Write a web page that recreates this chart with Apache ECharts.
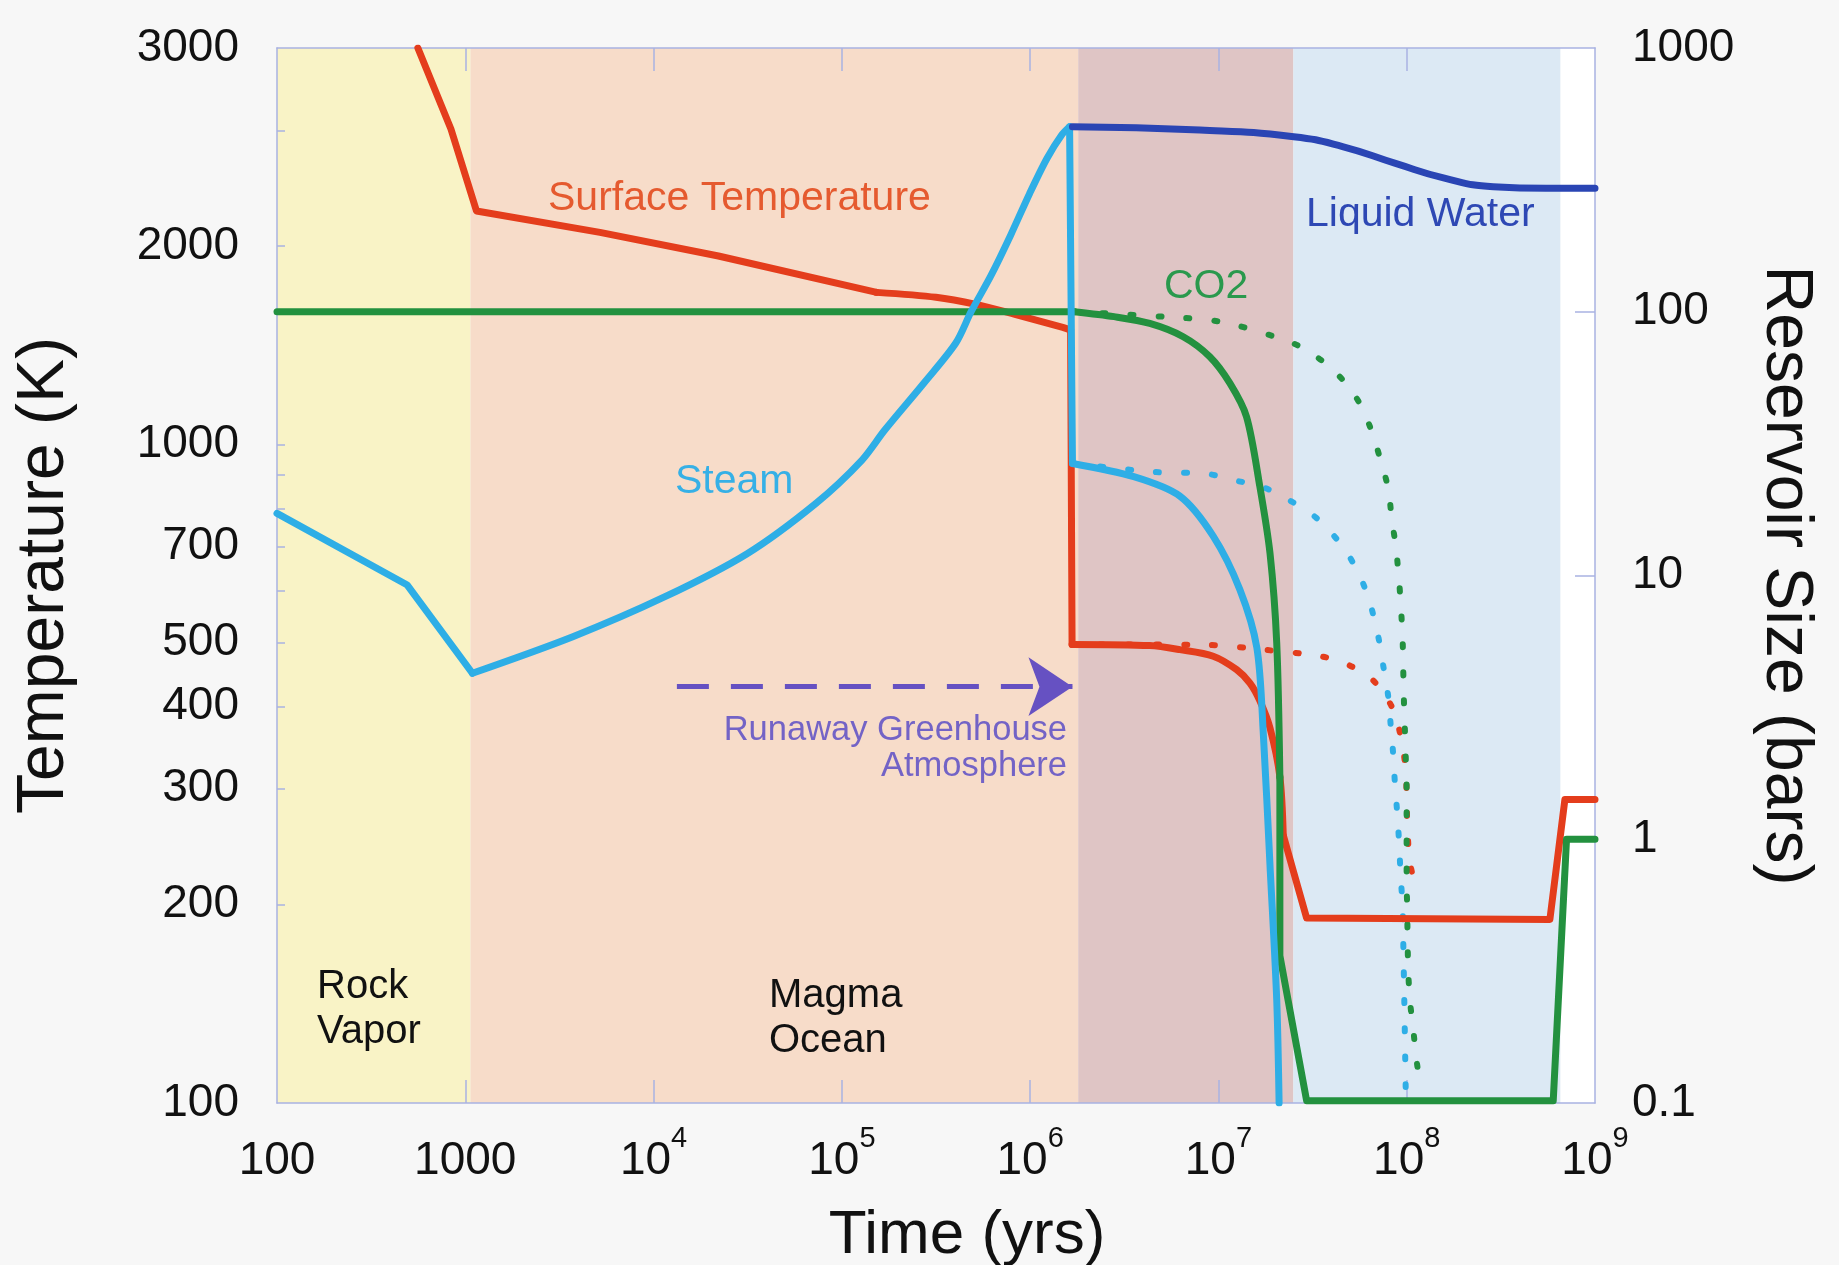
<!DOCTYPE html>
<html>
<head>
<meta charset="utf-8">
<script src="https://cdn.jsdelivr.net/npm/echarts@6/dist/echarts.min.js"></script>
<style>
html,body{margin:0;padding:0;background:#f7f7f7;}
#chart{width:1839px;height:1265px;}
</style>
</head>
<body>
<div id="chart"></div>
<script>
// ---------------- DATA (time in years; temperature in K; reservoir size in bars) ----------------
const surfaceTemperature = [
  [560, 4000], [839, 3013], [1147, 2262], [5190, 2099], [22100, 1933], [153000, 1702],
  [316000, 1673], [515000, 1632], [830000, 1576], [1490000, 1506], [1640000, 1492],
  [1670000, 497], [4320000, 495], [6240000, 488], [9380000, 477], [12500000, 455],
  [14700000, 434], [16600000, 408], [18800000, 371], [21200000, 313], [22100000, 255],
  [25000000, 225], [29400000, 191], [576000000, 190], [692000000, 289], [1000000000, 289]
];
const surfaceTemperatureAlt = [
  [1670000, 497], [8830000, 496], [17300000, 488], [34600000, 477], [48000000, 464],
  [66400000, 438], [84700000, 396], [94000000, 354], [99000000, 318], [99900000, 287],
  [101100000, 259], [104000000, 232], [113000000, 210]
];
const steam = [
  [100, 17.2], [492, 9.2], [1091, 4.26], [3724, 5.86], [11500, 8.31], [31400, 12.1],
  [73000, 18.8], [128000, 27.4], [169000, 35.6], [273000, 53.7], [403000, 76.1],
  [485000, 99.8], [619000, 137], [790000, 196], [994000, 281], [1230000, 382],
  [1470000, 468], [1620000, 503],
  [1678000, 26.6], [3550000, 23.7], [6240000, 20.0], [9380000, 14.1], [13000000, 8.84],
  [16000000, 5.32], [17300000, 2.54], [18800000, 0.789], [20400000, 0.246], [21000000, 0.1]
];
const steamAlt = [
  [1678000, 26.6], [4520000, 24.7], [8650000, 24.3], [12000000, 23.0], [17000000, 21.7],
  [23500000, 19.4], [33200000, 16.5], [46000000, 12.8], [56400000, 9.95], [63800000, 7.87],
  [70600000, 5.87], [75000000, 4.56], [79800000, 3.47], [82100000, 2.74], [84800000, 2.09],
  [86600000, 1.62], [89000000, 1.26], [91200000, 0.959], [92800000, 0.73], [95100000, 0.556],
  [95800000, 0.423], [97000000, 0.255], [98200000, 0.148], [98700000, 0.117], [99000000, 0.1]
];
const liquidWater = [
  [1678000, 503], [7980000, 489], [25100000, 461], [45600000, 423], [87200000, 365],
  [158600000, 321], [288400000, 298], [551000000, 294], [1000000000, 294]
];
const co2 = [
  [100, 100], [1720000, 100], [2790000, 95.8], [4320000, 90.3], [6500000, 80.4],
  [9000000, 67.5], [11500000, 53.6], [14100000, 40.0], [16600000, 21.7],
  [18800000, 12.1], [20400000, 5.55], [21200000, 1.72], [21200000, 0.362], [29400000, 0.102],
  [600000000, 0.102], [706000000, 1.0], [1000000000, 1.0]
];
const co2Alt = [
  [1720000, 100], [5070000, 95.8], [10200000, 91.7], [20400000, 80.0], [28200000, 72.7],
  [40700000, 60.2], [54200000, 47.0], [63800000, 36.7], [72100000, 27.9], [79800000, 21.3],
  [83200000, 16.5], [87600000, 12.8], [90900000, 9.74], [93200000, 7.56], [95100000, 5.75],
  [95800000, 4.47], [96600000, 3.40], [97800000, 2.60], [99000000, 1.97], [99900000, 1.56],
  [99900000, 0.921], [99900000, 0.702], [100600000, 0.545], [101100000, 0.415],
  [101900000, 0.316], [104000000, 0.245], [108300000, 0.190], [112900000, 0.1448], [118600000, 0.1124]
];
const runawayArrow = [[13300, 3.79], [1678000, 3.79]];

const phaseNames = ['Rock Vapor', 'Magma Ocean', 'Runaway Greenhouse', 'Liquid Water', 'Present'];
const phaseStart = [100, 1066, 1800000, 25000000, 656000000];
const phaseEnd   = [1066, 1800000, 25000000, 656000000, 1000000000];

const timeLabelValues = [100, 1000, 1e4, 1e5, 1e6, 1e7, 1e8, 1e9];
const timeTickValues = [1000, 1e4, 1e5, 1e6, 1e7, 1e8];
const tempLabelValues = [100, 200, 300, 400, 500, 700, 1000, 2000, 4000];
const tempLabelText   = ['100', '200', '300', '400', '500', '700', '1000', '2000', '3000'];
const tempTickValues = [200, 300, 400, 500, 600, 700, 800, 900, 1000, 2000, 3000];
const barsLabelValues = [0.1, 1, 10, 100, 1000];
const barsLabelText = ['0.1', '1', '10', '100', '1000'];
const barsTickValues = [1, 10, 100];

// ---------------- STYLE ----------------
const FONT = '"Liberation Sans", Arial, Helvetica, sans-serif';
const FRAME = '#a9b2e2';
const RED = '#e43d1c', STEAM = '#2eaee6', WATER = '#2a45b4', GREEN = '#23913f', PURPLE = '#6651c2';
const phaseColors = ['#f9f3c6', '#f7dcc9', '#dfc5c5', '#dce9f4', '#ffffff'];
const DOTS = [3, 25];
// drawing segments: [first index, last index, smoothness]
const tempSegs  = [[0, 5, 0], [5, 10, 0.3], [10, 11, 0], [11, 20, 0.3], [20, 25, 0]];
const steamSegs = [[0, 2, 0], [2, 17, 0.3], [17, 18, 0], [18, 27, 0.3]];
const co2Segs   = [[0, 1, 0], [1, 11, 0.3], [11, 16, 0]];

function near(list, v) {
  return list.findIndex(x => Math.abs(x - v) / x < 1e-6);
}

function lineSeries(name, data, yIdx, color, dotted, z, smooth) {
  return {
    type: 'line', name: name, data: data, xAxisIndex: 0, yAxisIndex: yIdx,
    symbol: 'none', showSymbol: false, clip: true, z: z, silent: true, smooth: smooth || false,
    lineStyle: { color: color, width: dotted ? 6 : 7, type: dotted ? DOTS : 'solid', cap: 'round', join: 'round' },
    emphasis: { disabled: true }
  };
}
function segmented(name, data, segs, yIdx, color, z) {
  return segs.map(s => lineSeries(name, data.slice(s[0], s[1] + 1), yIdx, color, false, z, s[2]));
}

const chart = echarts.init(document.getElementById('chart'), null, { renderer: 'canvas', width: 1839, height: 1265 });

const axisLabelStyle = { color: '#111', fontFamily: FONT, fontSize: 46 };

const option = {
  backgroundColor: '#f7f7f7',
  animation: false,
  textStyle: { fontFamily: FONT },
  grid: { left: 277, right: 244, top: 48, bottom: 162, containLabel: false, outerBoundsMode: 'none' },
  xAxis: [
    {
      type: 'log', logBase: 10, min: 100, max: 1e9, position: 'bottom', z: 4,
      name: 'Time (yrs)', nameLocation: 'middle', nameGap: 102,
      nameTextStyle: { color: '#111', fontFamily: FONT, fontSize: 62, padding: [0, 0, 0, 62] },
      axisLine: { show: true, lineStyle: { color: FRAME, width: 1.5 } },
      axisTick: { show: true, inside: true, length: 23, customValues: timeTickValues, lineStyle: { color: FRAME, width: 1.5 } },
      minorTick: { show: false }, splitLine: { show: false },
      axisLabel: {
        margin: 21, customValues: timeLabelValues,
        formatter: function (v) {
          const e = Math.round(Math.log10(v));
          if (e <= 3) return '{b|' + Math.round(v) + '}';
          return '{b|10}{s|' + e + '}';
        },
        rich: {
          b: { fontSize: 46, lineHeight: 60, color: '#111', fontFamily: FONT, verticalAlign: 'bottom' },
          s: { fontSize: 29, color: '#111', fontFamily: FONT, verticalAlign: 'top' }
        }
      }
    },
    {
      type: 'log', logBase: 10, min: 100, max: 1e9, position: 'top', z: 4,
      axisLine: { show: true, lineStyle: { color: FRAME, width: 1.5 } },
      axisTick: { show: true, inside: true, length: 23, customValues: timeTickValues, lineStyle: { color: FRAME, width: 1.5 } },
      minorTick: { show: false }, splitLine: { show: false },
      axisLabel: { show: false }
    }
  ],
  yAxis: [
    {
      type: 'log', logBase: 10, min: 100, max: 4000, position: 'left', z: 4,
      name: 'Temperature (K)', nameLocation: 'middle', nameRotate: 90, nameGap: 199,
      nameTextStyle: { color: '#111', fontFamily: FONT, fontSize: 66 },
      axisLine: { show: true, lineStyle: { color: FRAME, width: 1.5 } },
      axisTick: { show: true, inside: true, length: 8, customValues: tempTickValues, lineStyle: { color: FRAME, width: 1.5 } },
      minorTick: { show: false }, splitLine: { show: false },
      axisLabel: Object.assign({}, axisLabelStyle, {
        margin: 38, customValues: tempLabelValues,
        formatter: function (v) { const i = near(tempLabelValues, v); return i >= 0 ? tempLabelText[i] : ''; }
      })
    },
    {
      type: 'log', logBase: 10, min: 0.1, max: 1000, position: 'right', z: 4,
      name: 'Reservoir Size (bars)', nameLocation: 'middle', nameRotate: -90, nameGap: 157,
      nameTextStyle: { color: '#111', fontFamily: FONT, fontSize: 66 },
      axisLine: { show: true, lineStyle: { color: FRAME, width: 1.5 } },
      axisTick: { show: true, inside: true, length: 20, customValues: barsTickValues, lineStyle: { color: FRAME, width: 1.5 } },
      minorTick: { show: false }, splitLine: { show: false },
      axisLabel: Object.assign({}, axisLabelStyle, {
        margin: 37, customValues: barsLabelValues,
        formatter: function (v) { const i = near(barsLabelValues, v); return i >= 0 ? barsLabelText[i] : ''; }
      })
    }
  ],
  series: [
    {
      type: 'line', name: 'phases', data: [], xAxisIndex: 0, yAxisIndex: 1, silent: true, z: 1,
      markArea: {
        silent: true,
        label: { show: false },
        data: phaseNames.map((n, i) => [
          { name: n, xAxis: phaseStart[i], itemStyle: { color: phaseColors[i], opacity: 1 } },
          { xAxis: phaseEnd[i] }
        ])
      }
    },
    lineSeries('Surface Temperature (alt)', surfaceTemperatureAlt, 0, RED, true, 6, 0.3),
    lineSeries('CO2 (alt)', co2Alt, 1, GREEN, true, 6, 0.3),
    lineSeries('Steam (alt)', steamAlt, 1, STEAM, true, 6, 0.3),
    ...segmented('Surface Temperature', surfaceTemperature, tempSegs, 0, RED, 7),
    ...segmented('CO2', co2, co2Segs, 1, GREEN, 8),
    ...segmented('Steam', steam, steamSegs, 1, STEAM, 9),
    lineSeries('Liquid Water', liquidWater, 1, WATER, false, 10, 0.5),
    {
      type: 'line', name: 'Runaway Greenhouse', data: [], xAxisIndex: 0, yAxisIndex: 1, silent: true, z: 10,
      markLine: {
        silent: true, animation: false,
        symbol: ['none', 'arrow'], symbolSize: 44,
        label: { show: false },
        lineStyle: { color: PURPLE, width: 5, type: [32, 22], cap: 'butt' },
        itemStyle: { color: PURPLE },
        emphasis: { disabled: true },
        data: [[{ coord: runawayArrow[0] }, { coord: runawayArrow[1] }]]
      }
    }
  ],
  graphic: [
    { type: 'text', z: 20, left: 548, top: 178, style: { text: 'Surface Temperature', fill: '#e55a2f', font: '41px ' + FONT } },
    { type: 'text', z: 20, left: 675, top: 461, style: { text: 'Steam', fill: '#36b0e6', font: '41px ' + FONT } },
    { type: 'text', z: 20, left: 1306, top: 194, style: { text: 'Liquid Water', fill: '#2e48b4', font: '41px ' + FONT } },
    { type: 'text', z: 20, left: 1164, top: 266, style: { text: 'CO2', fill: '#2a994d', font: '41px ' + FONT } },
    { type: 'text', z: 20, x: 1067, y: 748, style: { text: 'Runaway Greenhouse\nAtmosphere', fill: '#7363c6', font: '34.5px ' + FONT, align: 'right', verticalAlign: 'middle', lineHeight: 36 } },
    { type: 'text', z: 20, left: 317, top: 964, style: { text: 'Rock\nVapor', fill: '#111', font: '40px ' + FONT, lineHeight: 45 } },
    { type: 'text', z: 20, left: 769, top: 973, style: { text: 'Magma\nOcean', fill: '#111', font: '40px ' + FONT, lineHeight: 45 } }
  ]
};

chart.setOption(option);
</script>
</body>
</html>
